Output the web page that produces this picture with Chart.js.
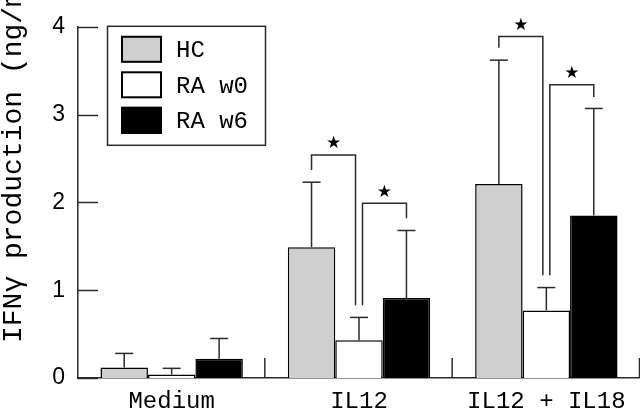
<!DOCTYPE html>
<html><head><meta charset="utf-8">
<script src="https://cdn.jsdelivr.net/npm/chart.js@4"></script>
<style>html,body{margin:0;padding:0;background:#fff}#wrap{width:640px;height:408px;position:relative}</style>
</head><body><div id="wrap"><canvas id="c" width="640" height="408"></canvas></div>
<script>
const categories = ['Medium', 'IL12', 'IL12 + IL18'];
const seriesNames = ['HC', 'RA w0', 'RA w6'];
const hcValues = [0.12, 1.49, 2.21];
const raW0Values = [0.04, 0.43, 0.77];
const raW6Values = [0.22, 0.91, 1.85];
const hcErrTop = [0.28, 2.23, 3.62];
const raW0ErrTop = [0.11, 0.69, 1.03];
const raW6ErrTop = [0.45, 1.68, 3.07];
const yTicks = [0, 1, 2, 3, 4];
const yTitle = 'IFNγ production (ng/ml)';
// significance brackets: [category, fromSeries, toSeries, topValue, leftEndValue, rightEndValue]
const brackets = [
  [1, 0, 1, 2.54, 2.37, 0.83],
  [1, 1, 2, 1.99, 0.83, 1.82],
  [2, 0, 1, 3.89, 3.76, 1.17],
  [2, 1, 2, 3.34, 1.17, 3.20]
];
const errTops = [hcErrTop, raW0ErrTop, raW6ErrTop];
const fills = ['#cfcfcf', '#ffffff', '#000000'];
const LINE = '#2a2a2a';

const extras = {
  id: 'extras',
  afterDatasetsDraw(chart) {
    const ctx = chart.ctx;
    const xs = chart.scales.x, ys = chart.scales.y;
    const ca = chart.chartArea;
    ctx.save();
    ctx.strokeStyle = LINE;
    ctx.lineWidth = 1.5;
    ctx.lineCap = 'butt';
    // inward y ticks
    yTicks.forEach(v => {
      const y = Math.round(ys.getPixelForValue(v)) + 0.5;
      ctx.beginPath(); ctx.moveTo(ca.left, y); ctx.lineTo(ca.left + 20, y); ctx.stroke();
    });
    // category separators
    const step = xs.getPixelForValue(1) - xs.getPixelForValue(0);
    categories.forEach((c, i) => {
      const x = xs.getPixelForValue(i) + step / 2 - 0.5;
      ctx.beginPath(); ctx.moveTo(x, ys.getPixelForValue(0)); ctx.lineTo(x, ys.getPixelForValue(0) - 20); ctx.stroke();
    });
    // error bars
    errTops.forEach((arr, s) => {
      const meta = chart.getDatasetMeta(s);
      arr.forEach((v, j) => {
        const el = meta.data[j];
        const x = el.x;
        const yTop = ys.getPixelForValue(v);
        ctx.beginPath(); ctx.moveTo(x, el.y); ctx.lineTo(x, yTop); ctx.stroke();
        ctx.beginPath(); ctx.moveTo(x - 9, yTop); ctx.lineTo(x + 9, yTop); ctx.stroke();
      });
    });
    // significance brackets
    brackets.forEach(b => {
      const [cat, a, bb, top, le, re] = b;
      let xl = chart.getDatasetMeta(a).data[cat].x;
      let xr = chart.getDatasetMeta(bb).data[cat].x;
      if (a === 1) xl += 3.5;
      if (bb === 1) xr -= 3.5;
      const yt = ys.getPixelForValue(top);
      ctx.beginPath();
      ctx.moveTo(xl, ys.getPixelForValue(le));
      ctx.lineTo(xl, yt);
      ctx.lineTo(xr, yt);
      ctx.lineTo(xr, ys.getPixelForValue(re));
      ctx.stroke();
      ctx.fillStyle = '#000';
      ctx.font = '17px "DejaVu Sans"';
      ctx.textAlign = 'center';
      ctx.textBaseline = 'middle';
      ctx.fillText('★', (xl + xr) / 2, yt - 11);
    });
    // legend
    const lx = ca.left + 29, ly = ca.top - 1;
    ctx.lineWidth = 1.5;
    ctx.strokeStyle = LINE;
    ctx.strokeRect(lx + 0.5, ly + 0.5, 158, 119);
    seriesNames.forEach((n, i) => {
      const by = ly + 10 + i * 35.5;
      ctx.fillStyle = fills[i];
      ctx.fillRect(lx + 14, by, 41, 27);
      ctx.lineWidth = 2;
      ctx.strokeStyle = '#000';
      ctx.strokeRect(lx + 15, by + 1, 39, 25);
      ctx.fillStyle = '#000';
      ctx.font = '24px "Liberation Mono"';
      ctx.textAlign = 'left';
      ctx.textBaseline = 'middle';
      ctx.fillText(n, lx + 69, by + 15);
    });
    // y title
    ctx.save();
    ctx.translate(21, 343);
    ctx.rotate(-Math.PI / 2);
    ctx.fillStyle = '#000';
    ctx.font = '28px "Liberation Mono"';
    ctx.textAlign = 'left';
    ctx.textBaseline = 'alphabetic';
    ctx.fillText(yTitle, 0, 0);
    ctx.restore();
    ctx.restore();
  }
};

new Chart(document.getElementById('c'), {
  type: 'bar',
  data: {
    labels: categories,
    datasets: [
      { label: seriesNames[0], data: hcValues, backgroundColor: fills[0], borderColor: '#000', borderWidth: 1.5 },
      { label: seriesNames[1], data: raW0Values, backgroundColor: fills[1], borderColor: '#000', borderWidth: 1.5 },
      { label: seriesNames[2], data: raW6Values, backgroundColor: fills[2], borderColor: '#000', borderWidth: 1.5 }
    ]
  },
  options: {
    responsive: false,
    animation: false,
    devicePixelRatio: 1,
    layout: { padding: { top: 16, right: 0, left: 0, bottom: 0 } },
    datasets: { bar: { categoryPercentage: 0.76, barPercentage: 1.0 } },
    plugins: { legend: { display: false }, tooltip: { enabled: false } },
    scales: {
      x: {
        grid: { display: false, drawTicks: false },
        border: { display: true, color: LINE, width: 1.5 },
        ticks: { font: { family: 'Liberation Mono', size: 24 }, color: '#000', padding: 9, maxRotation: 0, autoSkip: false },
        afterFit(s) { s.height = 30; }
      },
      y: {
        min: 0, max: 4,
        grid: { display: false, drawTicks: false },
        border: { display: true, color: LINE, width: 1.5 },
        ticks: { font: { family: 'Liberation Sans', size: 23 }, color: '#000', padding: 13 },
        afterBuildTicks(s) { s.ticks = yTicks.map(v => ({ value: v })); },
        afterFit(s) { s.width = 78; }
      }
    }
  },
  plugins: [extras]
});
</script></body></html>
